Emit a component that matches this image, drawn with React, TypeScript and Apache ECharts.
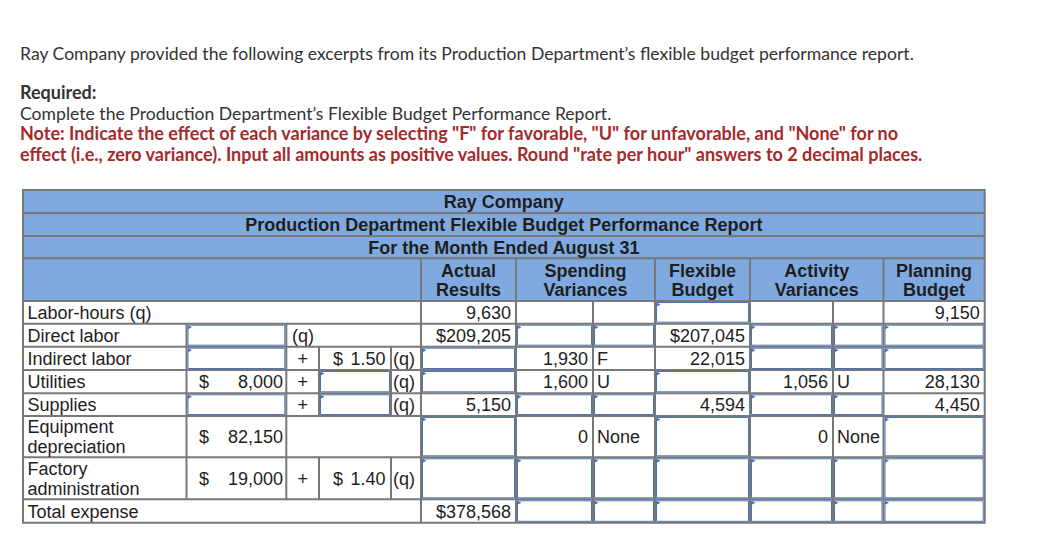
import React, { useEffect, useRef } from "react";
import * as echarts from "echarts";

// ---------- text content ----------
const introText =
  "Ray Company provided the following excerpts from its Production Department’s flexible budget performance report.";
const requiredTitle = "Required:";
const requiredText = "Complete the Production Department’s Flexible Budget Performance Report.";
const noteLines = [
  'Note: Indicate the effect of each variance by selecting "F" for favorable, "U" for unfavorable, and "None" for no',
  'effect (i.e., zero variance). Input all amounts as positive values. Round "rate per hour" answers to 2 decimal places.',
];

const titleLines = [
  "Ray Company",
  "Production Department Flexible Budget Performance Report",
  "For the Month Ended August 31",
];
const columnHeaders = [
  ["Actual", "Results"],
  ["Spending", "Variances"],
  ["Flexible", "Budget"],
  ["Activity", "Variances"],
  ["Planning", "Budget"],
];

// ---------- table data (null = input box, "" = blank cell) ----------
const rowLabels = [
  ["Labor-hours (q)"],
  ["Direct labor"],
  ["Indirect labor"],
  ["Utilities"],
  ["Supplies"],
  ["Equipment", "depreciation"],
  ["Factory", "administration"],
  ["Total expense"],
];
const formulaKinds = ["none", "fixedQ", "full", "full", "full", "fixed", "full", "none"];
const fixedCosts: (string | null)[] = ["", null, null, "8,000", null, "82,150", "19,000", ""];
const variableRates: (string | null)[] = ["", "", "1.50", null, null, "", "1.40", ""];
const actualResults: (string | null)[] = ["9,630", "$209,205", null, null, "5,150", null, null, "$378,568"];
const spendingAmounts: (string | null)[] = ["", null, "1,930", "1,600", null, "0", null, null];
const spendingEffects: (string | null)[] = ["", null, "F", "U", null, "None", null, null];
const flexibleBudget: (string | null)[] = [null, "$207,045", "22,015", null, "4,594", null, null, null];
const activityAmounts: (string | null)[] = ["", null, null, "1,056", null, "0", null, null];
const activityEffects: (string | null)[] = ["", null, null, "U", null, "None", null, null];
const planningBudget: (string | null)[] = ["9,150", null, null, "28,130", "4,450", null, null, null];

// ---------- layout ----------
const X = {
  left: 23,
  label: 186.5,
  fixed: 286.3,
  plus: 319,
  rate: 391,
  q: 421,
  actual: 516,
  spAmt: 593,
  spEff: 655,
  flex: 750,
  acAmt: 833,
  acEff: 883.5,
  right: 984.7,
};
const headerY = [190, 213, 236, 258.3, 301];
const rowY = [301, 323.7, 346.7, 370, 393.3, 416, 457.3, 499.3, 522.8];

const GRID = "#787878";
const BLUE_FILL = "#80aadf";
const INPUT_BLUE = "#4a74b6";
const TXT = "#1e1e1e";
const TABLE_FAMILY = "Liberation Sans";
const INTRO_FAMILY = "Lato";
const TS = 18;

function text(
  t: string,
  x: number,
  y: number,
  align: string,
  fill: string,
  size = TS,
  weight = "normal",
  family = TABLE_FAMILY
) {
  return {
    type: "text",
    x,
    y,
    z: 5,
    silent: true,
    style: {
      text: t,
      fontSize: size,
      fontWeight: weight,
      fontFamily: family,
      fill,
      textAlign: align,
      textVerticalAlign: "middle",
    },
  };
}
function line(x1: number, y1: number, x2: number, y2: number, w = 2, color = GRID) {
  return { type: "line", z: 2, silent: true, shape: { x1, y1, x2, y2 }, style: { stroke: color, lineWidth: w } };
}
function inputBox(xl: number, yt: number, xr: number, yb: number) {
  const bx = xl + 1.5;
  const by = yt + 1.5;
  return [
    {
      type: "rect",
      z: 3,
      silent: true,
      shape: { x: bx, y: by, width: xr - 1.5 - bx, height: yb - 1.5 - by },
      style: { fill: "#ffffff", stroke: INPUT_BLUE, lineWidth: 1 },
    },
    {
      type: "polygon",
      z: 4,
      silent: true,
      shape: { points: [[bx, by], [bx + 4, by + 2], [bx, by + 4]] },
      style: { fill: INPUT_BLUE },
    },
  ];
}

function buildGraphics() {
  const els: any[] = [];
  // intro texts
  els.push(text(introText, 20, 53, "left", "#333333", 17.6, "normal", INTRO_FAMILY));
  els.push(text(requiredTitle, 20, 92, "left", "#333333", 18, "bold", INTRO_FAMILY));
  els.push(text(requiredText, 20, 113, "left", "#333333", 17.6, "normal", INTRO_FAMILY));
  els.push(text(noteLines[0], 20, 133, "left", "#a42a2b", 18, "bold", INTRO_FAMILY));
  els.push(text(noteLines[1], 20, 153.5, "left", "#a42a2b", 18, "bold", INTRO_FAMILY));

  // header fill
  els.push({
    type: "rect",
    z: 1,
    silent: true,
    shape: { x: X.left, y: headerY[0], width: X.right - X.left, height: headerY[4] - headerY[0] },
    style: { fill: BLUE_FILL },
  });

  // header horizontal lines
  for (let i = 1; i < headerY.length; i++) els.push(line(X.left, headerY[i], X.right, headerY[i]));
  const midX = (X.left + X.right) / 2;
  for (let i = 0; i < 3; i++) {
    els.push(text(titleLines[i], midX, (headerY[i] + headerY[i + 1]) / 2 + 0.5, "center", TXT, TS, "bold"));
  }
  const headerCols = [
    [X.q, X.actual],
    [X.actual, X.spEff],
    [X.spEff, X.flex],
    [X.flex, X.acEff],
    [X.acEff, X.right],
  ];
  headerCols.forEach(([a, b], i) => {
    els.push(line(a, headerY[3], a, headerY[4]));
    const cx = (a + b) / 2;
    els.push(text(columnHeaders[i][0], cx, 270.5, "center", TXT, TS, "bold"));
    els.push(text(columnHeaders[i][1], cx, 290, "center", TXT, TS, "bold"));
  });

  // body horizontal lines
  for (let r = 1; r < rowY.length - 1; r++) els.push(line(X.left, rowY[r], X.right, rowY[r]));
  // body vertical lines that span all rows
  [X.q, X.actual, X.spAmt, X.spEff, X.flex, X.acAmt, X.acEff].forEach((x) =>
    els.push(line(x, rowY[0], x, rowY[rowY.length - 1]))
  );

  const cell = (val: string | null, xl: number, xr: number, yt: number, yb: number, mode: string) => {
    const cy = (yt + yb) / 2 + 0.5;
    if (val === null) {
      els.push(...inputBox(xl, yt, xr, yb));
    } else if (val !== "") {
      if (mode === "right") els.push(text(val, xr - 5, cy, "right", TXT));
      else els.push(text(val, xl + 4, cy, "left", TXT));
    }
  };

  rowLabels.forEach((lab, r) => {
    const yt = rowY[r];
    const yb = rowY[r + 1];
    const cy = (yt + yb) / 2 + 0.5;
    // labels
    if (lab.length === 1) els.push(text(lab[0], 27.5, cy, "left", TXT));
    else {
      els.push(text(lab[0], 27.5, cy - 10, "left", TXT));
      els.push(text(lab[1], 27.5, cy + 10, "left", TXT));
    }
    // formula section
    const kind = formulaKinds[r];
    if (kind !== "none") {
      els.push(line(X.label, yt, X.label, yb));
      els.push(line(X.fixed, yt, X.fixed, yb));
      const fc = fixedCosts[r];
      if (fc === null) els.push(...inputBox(X.label, yt, X.fixed, yb));
      else if (fc !== "") {
        els.push(text("$", 199, cy, "left", TXT));
        els.push(text(fc, 283, cy, "right", TXT));
      }
      if (kind === "fixedQ") {
        els.push(text("(q)", 292, cy, "left", TXT));
      }
      if (kind === "full") {
        els.push(line(X.plus, yt, X.plus, yb));
        els.push(line(X.rate, yt, X.rate, yb));
        els.push(text("+", (X.fixed + X.plus) / 2, cy, "center", TXT));
        const vr = variableRates[r];
        if (vr === null) els.push(...inputBox(X.plus, yt, X.rate, yb));
        else if (vr !== "") {
          els.push(text("$", 333, cy, "left", TXT));
          els.push(text(vr, 385.5, cy, "right", TXT));
        }
        els.push(text("(q)", 393, cy, "left", TXT));
      }
    }
    // value columns
    cell(actualResults[r], X.q, X.actual, yt, yb, "right");
    cell(spendingAmounts[r], X.actual, X.spAmt, yt, yb, "right");
    cell(spendingEffects[r], X.spAmt, X.spEff, yt, yb, "left");
    cell(flexibleBudget[r], X.spEff, X.flex, yt, yb, "right");
    cell(activityAmounts[r], X.flex, X.acAmt, yt, yb, "right");
    cell(activityEffects[r], X.acAmt, X.acEff, yt, yb, "left");
    cell(planningBudget[r], X.acEff, X.right, yt, yb, "right");
  });

  // outer border
  els.push({
    type: "rect",
    z: 6,
    silent: true,
    shape: { x: X.left, y: headerY[0], width: X.right - X.left, height: rowY[rowY.length - 1] - headerY[0] },
    style: { fill: "none", stroke: GRID, lineWidth: 2 },
  });
  return els;
}

export default function App() {
  const ref = useRef<HTMLDivElement>(null);
  useEffect(() => {
    if (!ref.current) return;
    const chart = echarts.init(ref.current, undefined, { renderer: "svg" });
    chart.setOption({
      animation: false,
      backgroundColor: "#ffffff",
      graphic: { elements: buildGraphics() },
    });
    return () => chart.dispose();
  }, []);
  return (
    <div
      ref={ref}
      style={{ position: "fixed", left: 0, top: 0, width: 1046, height: 554, background: "#fff" }}
    />
  );
}
